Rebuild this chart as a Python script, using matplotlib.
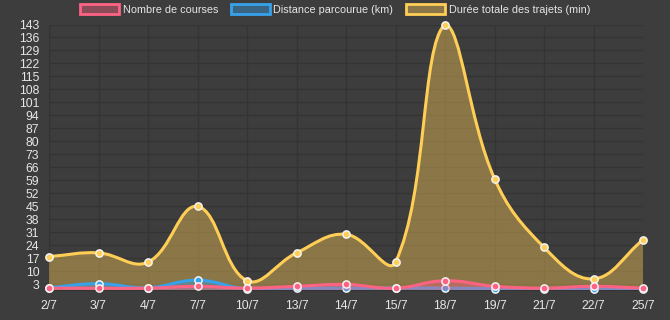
import numpy as np
import matplotlib.pyplot as plt
from matplotlib.path import Path
from matplotlib.patches import PathPatch, Rectangle

# donnees par jour
jours = ['2/7', '3/7', '4/7', '7/7', '10/7', '13/7', '14/7', '15/7', '18/7', '19/7', '21/7', '22/7', '25/7']
nb_courses = [1, 1, 1, 2, 1, 2, 3, 1, 5, 2, 1, 2, 1]
distance_km = [1.3, 3.4, 1.2, 5.3, 0.5, 1.0, 1.0, 1.1, 1.0, 0.8, 0.8, 0.8, 0.8]
duree_min = [18, 20, 15, 45, 5, 20, 30, 15, 143, 60, 23, 6, 27]
graduations_y = list(range(3, 144, 7))

labels_series = ['Nombre de courses', 'Distance parcourue (km)', 'Durée totale des trajets (min)']
couleurs = ['#ff6384', '#36a2eb', '#ffce56']

fond = '#3d3d3d'
grille = '#343434'
texte = '#e6e6e6'

plt.rcParams['font.family'] = ['Liberation Sans', 'DejaVu Sans']

fig = plt.figure(figsize=(6.7, 3.2), dpi=100, facecolor=fond)
ax = fig.add_axes([49 / 670, 30 / 320, 594 / 670, 265.5 / 320], facecolor=fond)

x = np.arange(len(jours))
ax.set_xlim(0, len(jours) - 1)
ax.set_ylim(0, 143)


def courbe_lissee(ax, xs, ys, tension=0.4):
    # courbe de bezier facon chart.js, calculee en pixels
    pts = ax.transData.transform(np.column_stack([xs, ys]))
    bb = ax.bbox
    n = len(pts)
    avant = np.zeros_like(pts)
    apres = np.zeros_like(pts)
    for i in range(n):
        prev = pts[i - 1] if i > 0 else pts[i]
        cur = pts[i]
        nxt = pts[i + 1] if i < n - 1 else pts[i]
        d01 = np.hypot(*(cur - prev))
        d12 = np.hypot(*(nxt - cur))
        tot = d01 + d12
        s01 = d01 / tot if tot else 0
        s12 = d12 / tot if tot else 0
        avant[i] = cur - tension * s01 * (nxt - prev)
        apres[i] = cur + tension * s12 * (nxt - prev)
    # on garde les points de controle dans la zone du graphique
    for arr in (avant, apres):
        arr[:, 0] = np.clip(arr[:, 0], bb.x0, bb.x1)
        arr[:, 1] = np.clip(arr[:, 1], bb.y0, bb.y1)
    inv = ax.transData.inverted()
    avant = inv.transform(avant)
    apres = inv.transform(apres)
    verts = [(xs[0], ys[0])]
    codes = [Path.MOVETO]
    for i in range(n - 1):
        verts += [tuple(apres[i]), tuple(avant[i + 1]), (xs[i + 1], ys[i + 1])]
        codes += [Path.CURVE4] * 3
    return verts, codes


series = [nb_courses, distance_km, duree_min]
# la premiere serie est dessinee au-dessus des autres
for k in [2, 1, 0]:
    vals = np.array(series[k], dtype=float)
    verts, codes = courbe_lissee(ax, x, vals)
    z = 3 + (2 - k) * 3
    zone = Path(verts + [(x[-1], 0), (x[0], 0), (x[0], 0)],
                codes + [Path.LINETO, Path.LINETO, Path.CLOSEPOLY])
    ax.add_patch(PathPatch(zone, facecolor=couleurs[k], alpha=0.4, lw=0, zorder=z))
    ax.add_patch(PathPatch(Path(verts, codes), facecolor='none', edgecolor=couleurs[k],
                           lw=2.2, zorder=z + 1, capstyle='round', joinstyle='round'))
    ax.plot(x, vals, 'o', ms=5.2, mfc=couleurs[k], mec='#f4f4f4', mew=1.1,
            zorder=z + 2, clip_on=False)

ax.set_xticks(x)
ax.set_xticklabels(jours)
ax.set_yticks(graduations_y)
ax.tick_params(axis='both', length=0, colors=texte, labelsize=8.8)
ax.tick_params(axis='x', pad=7)
ax.tick_params(axis='y', pad=7)
ax.grid(True, color=grille, lw=1, zorder=0)
ax.set_axisbelow(True)
for s in ax.spines.values():
    s.set_color(grille)
ax.spines['top'].set_visible(False)
ax.spines['right'].set_visible(False)

poignees = [Rectangle((0, 0), 1, 1, facecolor=c + '66', edgecolor=c, lw=2) for c in couleurs]
leg = fig.legend(poignees, labels_series, loc='upper center', bbox_to_anchor=(0.5, 1.0),
                 ncol=3, frameon=False, fontsize=7.8, handlelength=3.6, handleheight=1.05,
                 handletextpad=0.35, columnspacing=1.15, borderaxespad=0.0, borderpad=0.4)
for t in leg.get_texts():
    t.set_color(texte)

fig.savefig('out.png', dpi=100, facecolor=fond)
